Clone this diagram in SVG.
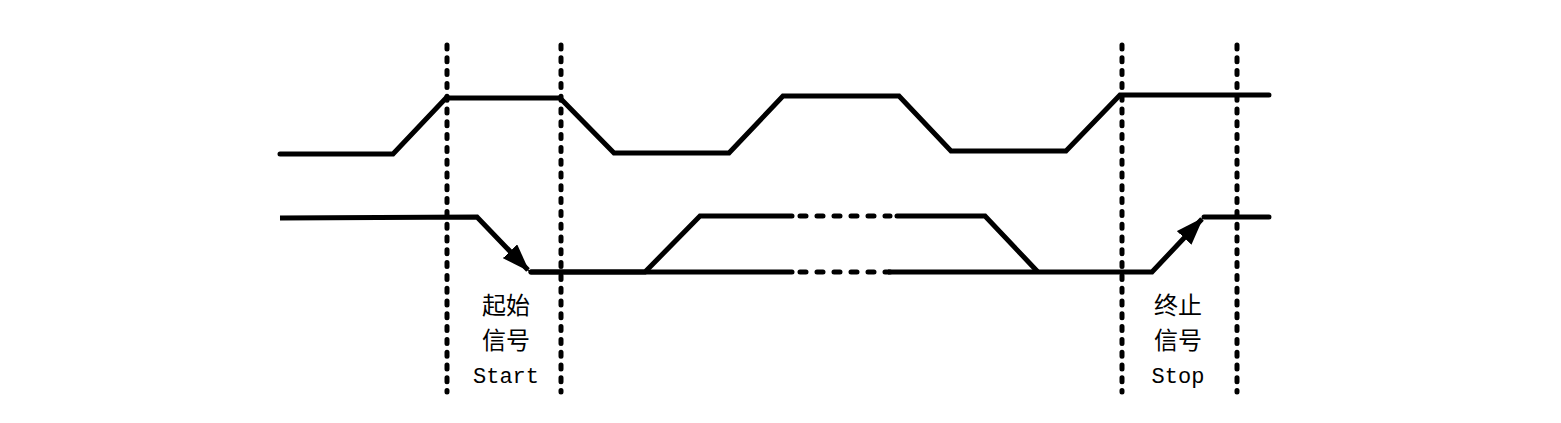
<svg xmlns="http://www.w3.org/2000/svg" width="1561" height="423" viewBox="0 0 1561 423">
<style>
.sig{fill:none;stroke:#000;stroke-width:5;stroke-linejoin:miter;stroke-linecap:round}
.dot{fill:none;stroke:#000;stroke-width:5;stroke-linecap:round;stroke-dasharray:4 8.8}
.mdot{fill:none;stroke:#000;stroke-width:5;stroke-linecap:round;stroke-dasharray:6 11}
.cjk{font-family:"Noto Sans CJK SC","Noto Sans CJK JP",sans-serif;font-size:24px;fill:#000;text-anchor:middle}
.lat{font-family:"Liberation Mono",monospace;font-size:22px;fill:#000;text-anchor:middle}
</style>
<defs>
<marker id="arr" viewBox="0 0 28 20" refX="26" refY="10" markerWidth="28" markerHeight="20" markerUnits="userSpaceOnUse" orient="auto">
<path d="M0,0 L28,10 L0,20 z" fill="#000"/>
</marker>
</defs>
<rect width="1561" height="423" fill="#fff"/>
<g id="markers">
<line class="dot" x1="447" y1="45" x2="447" y2="392"/>
<line class="dot" x1="561" y1="45" x2="561" y2="392"/>
<line class="dot" x1="1122" y1="45" x2="1122" y2="392"/>
<line class="dot" x1="1237" y1="45" x2="1237" y2="392"/>
</g>
<g id="connectors">
<polyline class="sig" points="280,154 393,154 446,98 560,98 614,153 729,153 783,96 899,96 951,151 1066,151 1120,95 1269,95"/>
<path class="sig" style="stroke-linecap:butt" d="M280,218 L477,217 L528,270" marker-end="url(#arr)"/>
<polyline class="sig" points="531,272 645,272 700,216 792,216"/>
<polyline class="sig" points="897,216 985,216 1037,271"/>
<polyline class="sig" points="531,272 792,272"/>
<path class="sig" style="stroke-linecap:butt" d="M888,272 L1152,272 L1202,219" marker-end="url(#arr)"/>
<polyline class="sig" points="1204,217 1269,217"/>
<line class="mdot" x1="800" y1="216" x2="890" y2="216"/>
<line class="mdot" x1="800" y1="272" x2="890" y2="272"/>
</g>
<g id="start-label">
<text class="cjk" x="506" y="314">起始</text>
<text class="cjk" x="506" y="349">信号</text>
<text class="lat" x="506" y="383">Start</text>
</g>
<g id="stop-label">
<text class="cjk" x="1178" y="314">终止</text>
<text class="cjk" x="1178" y="349">信号</text>
<text class="lat" x="1178" y="383">Stop</text>
</g>
</svg>
